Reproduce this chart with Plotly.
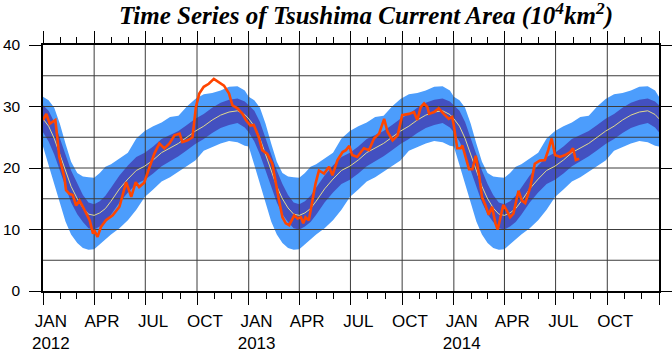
import plotly.graph_objects as go

# ---------------- data ----------------
YEARS = [2012, 2013, 2014]
CLIM_MD = ["01-01", "01-11", "01-21", "01-31", "02-10", "02-20", "03-02", "03-12",
           "03-22", "04-01", "04-11", "04-21", "05-01", "05-16", "05-31", "06-15",
           "06-30", "07-15", "07-30", "08-14", "08-29", "09-13", "09-28", "10-13",
           "10-28", "11-12", "11-27", "12-12", "12-25"]
CLIM_MEAN = [28.0, 26.8, 24.8, 22.3, 19.5, 17.0, 15.0, 13.5, 12.5, 12.3, 12.7, 13.4,
             14.6, 16.6, 18.2, 19.6, 20.3, 21.3, 22.5, 23.3, 24.0, 25.0, 26.0, 26.8,
             27.8, 28.6, 29.1, 29.3, 28.7]
CLIM_INNER_HI = [30.2, 29.3, 27.5, 25.0, 22.2, 19.6, 17.4, 15.6, 14.4, 14.1, 14.6, 15.5,
                 16.8, 18.8, 20.4, 21.8, 22.5, 23.5, 24.7, 25.4, 26.0, 27.0, 28.0, 28.8,
                 29.8, 30.6, 31.1, 31.3, 30.8]
CLIM_INNER_LO = [25.8, 24.3, 22.2, 19.6, 16.8, 14.4, 12.5, 11.2, 10.2, 10.0, 10.5, 11.2,
                 12.4, 14.4, 16.0, 17.4, 18.1, 19.1, 20.3, 21.1, 21.9, 22.9, 23.9, 24.7,
                 25.7, 26.5, 27.0, 27.3, 26.6]
CLIM_OUTER_HI = [31.6, 31.0, 29.8, 27.2, 24.0, 21.0, 19.2, 18.6, 18.5, 18.4, 19.2, 20.2,
                 20.6, 21.6, 22.5, 24.8, 26.0, 26.8, 27.4, 28.3, 28.5, 30.0, 31.2, 32.0,
                 32.2, 32.6, 33.2, 33.3, 32.6]
CLIM_OUTER_LO = [23.5, 20.5, 17.5, 14.5, 11.3, 9.2, 7.8, 7.0, 6.7, 6.8, 7.6, 8.4,
                 9.2, 10.2, 11.5, 13.2, 15.3, 16.5, 17.8, 18.5, 19.4, 20.3, 21.2, 22.8,
                 23.4, 24.0, 24.4, 24.2, 23.6]

OBS_DATES = [
    "2012-01-01", "2012-01-07", "2012-01-13", "2012-01-18", "2012-01-23", "2012-01-27",
    "2012-01-30", "2012-02-08", "2012-02-11", "2012-02-17", "2012-02-23", "2012-02-29",
    "2012-03-06", "2012-03-12", "2012-03-18", "2012-03-24", "2012-03-30", "2012-04-01",
    "2012-04-07", "2012-04-13", "2012-04-22", "2012-05-04", "2012-05-16", "2012-05-25",
    "2012-05-28", "2012-06-06", "2012-06-14", "2012-06-20", "2012-06-29", "2012-07-08",
    "2012-07-17", "2012-07-26", "2012-08-04", "2012-08-13", "2012-08-22", "2012-08-31",
    "2012-09-05", "2012-09-14", "2012-09-23", "2012-09-29", "2012-10-05", "2012-10-13",
    "2012-10-22", "2012-10-31", "2012-11-09", "2012-11-18", "2012-11-27", "2012-12-03",
    "2012-12-12", "2012-12-21", "2012-12-27",
    "2013-01-04", "2013-01-10", "2013-01-19", "2013-01-25", "2013-02-03", "2013-02-12",
    "2013-02-18", "2013-02-24", "2013-03-02", "2013-03-08", "2013-03-14", "2013-03-23",
    "2013-03-29", "2013-04-04", "2013-04-08", "2013-04-12", "2013-04-18", "2013-04-24",
    "2013-04-30", "2013-05-06", "2013-05-15", "2013-05-24", "2013-05-30", "2013-06-08",
    "2013-06-17", "2013-06-23", "2013-06-29", "2013-07-04", "2013-07-13", "2013-07-25",
    "2013-08-03", "2013-08-12", "2013-08-21", "2013-08-30", "2013-09-05", "2013-09-14",
    "2013-09-23", "2013-10-01", "2013-10-13", "2013-10-22", "2013-10-28", "2013-11-03",
    "2013-11-09", "2013-11-15", "2013-11-18", "2013-11-27", "2013-12-05", "2013-12-14",
    "2013-12-23", "2013-12-29",
    "2014-01-01", "2014-01-07", "2014-01-13", "2014-01-16", "2014-01-22", "2014-01-28",
    "2014-02-03", "2014-02-07", "2014-02-09", "2014-02-15", "2014-02-20", "2014-02-26",
    "2014-03-04", "2014-03-10", "2014-03-16", "2014-03-20", "2014-03-24", "2014-03-30",
    "2014-04-05", "2014-04-11", "2014-04-17", "2014-04-26", "2014-05-02", "2014-05-08",
    "2014-05-17", "2014-05-25", "2014-06-03", "2014-06-12", "2014-06-18", "2014-06-24",
    "2014-06-30", "2014-07-09", "2014-07-18", "2014-07-27", "2014-08-01", "2014-08-06",
    "2014-08-12",
]
OBS_VALUES = [
    27.8, 28.8, 27.2, 27.5, 27.8, 24.5,
    21.8, 18.5, 16.4, 15.8, 15.6, 13.9,
    14.7, 13.7, 12.6, 11.5, 9.3, 9.9,
    8.8, 10.4, 11.5, 12.3, 13.7, 16.4,
    17.7, 15.3, 17.7, 16.9, 17.6, 20.0,
    22.3, 24.0, 23.2, 24.0, 25.3, 25.6,
    24.2, 24.5, 25.0, 29.9, 32.1, 33.2,
    33.7, 34.5, 34.0, 33.4, 32.1, 30.2,
    29.7, 28.8, 27.8,
    26.9, 27.0, 25.0, 22.9, 22.3, 20.7,
    18.0, 14.7, 12.0, 11.0, 10.7, 12.3,
    11.8, 12.0, 11.0, 12.0, 11.5, 14.7,
    17.5, 19.6, 19.1, 20.2, 18.8, 21.3,
    22.6, 22.9, 23.6, 22.1, 21.8, 23.2,
    22.9, 24.8, 25.6, 28.0, 25.9, 24.5,
    25.3, 28.6, 28.8, 29.1, 27.8, 29.9,
    30.5, 29.9, 28.8, 29.1, 29.7, 28.8,
    28.0, 28.3,
    26.9, 23.2, 23.2, 23.7, 21.8, 19.8,
    19.8, 21.5, 22.0, 18.8, 15.3, 14.0,
    12.4, 13.7, 11.0, 10.0, 11.5, 14.0,
    13.1, 12.0, 12.6, 16.3, 14.7, 14.3,
    16.9, 20.7, 21.2, 21.3, 22.9, 24.8,
    22.1, 21.8, 22.1, 22.6, 23.2, 21.3,
    21.5,
]

X_RANGE = ["2012-01-01", "2015-01-01"]
Y_RANGE = [0, 40]
Y_TICKS = [0, 10, 20, 30, 40]
Y_GRID = [5, 10, 15, 20, 25, 30, 35]
X_GRID = ["2012-04-01", "2012-07-01", "2012-10-01", "2013-01-01", "2013-04-01",
          "2013-07-01", "2013-10-01", "2014-01-01", "2014-04-01", "2014-07-01",
          "2014-10-01"]
LABEL_DATES = ["2012-01-15", "2012-04-15", "2012-07-15", "2012-10-15",
               "2013-01-15", "2013-04-15", "2013-07-15", "2013-10-15",
               "2014-01-15", "2014-04-15", "2014-07-15", "2014-10-15"]
LABEL_TEXT = ["JAN<br>2012", "APR", "JUL", "OCT",
              "JAN<br>2013", "APR", "JUL", "OCT",
              "JAN<br>2014", "APR", "JUL", "OCT"]
TITLE = "Time Series of Tsushima Current Area (10<sup>4</sup>km<sup>2</sup>)"

# ---------------- build climatology repeated for each year ----------------
clim_x = [f"{y}-{md}" for y in YEARS for md in CLIM_MD] + [X_RANGE[1]]


def tile(vals):
    return vals * len(YEARS) + [vals[0]]


LIGHT = "#4c9dfc"
DARK = "#4350c0"
MEAN_C = "#e2d98c"
OBS_C = "#ff4500"
GRID_C = "#3c3c3c"

fig = go.Figure()
fig.add_trace(go.Scatter(x=clim_x, y=tile(CLIM_OUTER_LO), mode="lines",
                         line=dict(width=0, color=LIGHT), hoverinfo="skip", showlegend=False))
fig.add_trace(go.Scatter(x=clim_x, y=tile(CLIM_OUTER_HI), mode="lines", fill="tonexty",
                         fillcolor=LIGHT, line=dict(width=0, color=LIGHT),
                         hoverinfo="skip", showlegend=False))
fig.add_trace(go.Scatter(x=clim_x, y=tile(CLIM_INNER_LO), mode="lines",
                         line=dict(width=0, color=DARK), hoverinfo="skip", showlegend=False))
fig.add_trace(go.Scatter(x=clim_x, y=tile(CLIM_INNER_HI), mode="lines", fill="tonexty",
                         fillcolor=DARK, line=dict(width=0, color=DARK),
                         hoverinfo="skip", showlegend=False))

# grid lines drawn above the bands (as in the reference)
gx, gy = [], []
for v in Y_GRID:
    gx += [X_RANGE[0], X_RANGE[1], None]
    gy += [v, v, None]
for d in X_GRID:
    gx += [d, d, None]
    gy += [Y_RANGE[0], Y_RANGE[1], None]
fig.add_trace(go.Scatter(x=gx, y=gy, mode="lines", line=dict(color=GRID_C, width=1),
                         hoverinfo="skip", showlegend=False))

fig.add_trace(go.Scatter(x=clim_x, y=tile(CLIM_MEAN), mode="lines",
                         line=dict(color=MEAN_C, width=1), showlegend=False))
fig.add_trace(go.Scatter(x=OBS_DATES, y=OBS_VALUES, mode="lines", xaxis="x2", yaxis="y",
                         line=dict(color=OBS_C, width=2.6), showlegend=False))

tickfont = dict(family="Liberation Sans, Arial, sans-serif", size=17, color="black")

fig.update_layout(
    width=672, height=353,
    margin=dict(l=43, r=13, t=45, b=62),
    paper_bgcolor="white", plot_bgcolor="white",
    title=dict(text=TITLE, x=366 / 672, xref="container", xanchor="center",
               y=1 - 15.5 / 353, yref="container", yanchor="middle",
               font=dict(family="Liberation Serif, Times New Roman, serif", size=25,
                         color="black", weight="bold", style="italic")),
    xaxis=dict(type="date", range=X_RANGE, showgrid=False, zeroline=False,
               showline=True, linecolor="black", linewidth=1.5, mirror="ticks",
               ticks="outside", ticklen=12, tickwidth=1, tickcolor="black",
               dtick="M3", tick0=X_RANGE[0], showticklabels=False, automargin=False,
               minor=dict(dtick="M1", tick0=X_RANGE[0], ticks="outside", ticklen=6,
                          tickwidth=1, tickcolor="black", showgrid=False)),
    xaxis2=dict(type="date", range=X_RANGE, overlaying="x", anchor="y", side="bottom",
                showgrid=False, zeroline=False, showline=False, ticks="",
                tickmode="array", tickvals=LABEL_DATES, ticktext=LABEL_TEXT,
                tickfont=tickfont, ticklabelstandoff=18, automargin=False),
    yaxis=dict(range=Y_RANGE, showgrid=False, zeroline=False, showline=True,
               linecolor="black", linewidth=1.5, mirror="ticks",
               ticks="outside", ticklen=12, tickwidth=1, tickcolor="black",
               tickmode="array", tickvals=Y_TICKS, automargin=False,
               tickfont=dict(family="Liberation Sans, Arial, sans-serif", size=15.5,
                             color="black"),
               ticklabelstandoff=6),
    showlegend=False,
)

fig.write_html("out.html")
